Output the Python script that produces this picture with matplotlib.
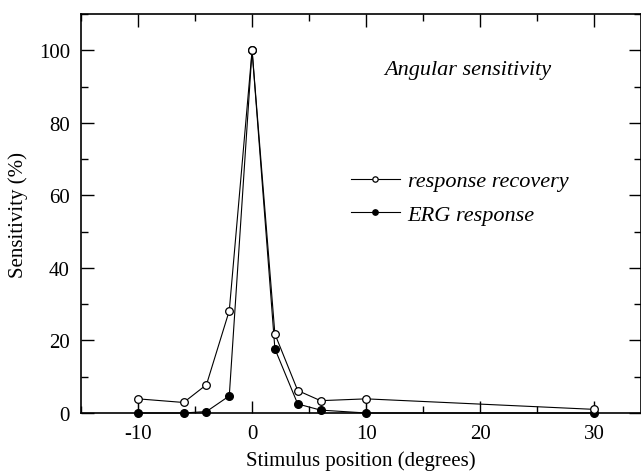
import matplotlib
matplotlib.use('Agg')
import matplotlib.pyplot as plt
from matplotlib.ticker import MultipleLocator, FixedLocator

plt.rcParams['font.family'] = 'Liberation Serif'
plt.rcParams['axes.unicode_minus'] = False

# stimulus positions (degrees)
positions = [-10, -6, -4, -2, 0, 2, 4, 6, 10, 30]
recovery = [3.9, 2.9, 7.8, 28.2, 100, 21.8, 6.2, 3.4, 3.9, 1.0]
erg = [0, 0, 0.4, 4.7, 100, 17.7, 2.5, 0.8, 0, 0]
# downward error bars on the recovery curve
recovery_err_low = [3.9, 0, 0, 0, 0, 0, 0, 0, 3.9, 1.0]
recovery_err_high = [0, 0, 0, 0, 0, 0, 0, 0, 0, 0]

fig = plt.figure(figsize=(6.41, 4.77), dpi=100)
ax = fig.add_axes([81/641, 63/477, 560/641, 399/477])

ax.errorbar(positions, recovery, yerr=[recovery_err_low, recovery_err_high],
            fmt='none', ecolor='black', elinewidth=0.8, capsize=0)
ax.plot(positions, recovery, '-o', color='black', lw=0.8, ms=5.5,
        mfc='white', mec='black', mew=0.9, clip_on=False, zorder=4,
        label='response recovery')
ax.plot(positions, erg, '-o', color='black', lw=0.8, ms=5.5,
        mfc='black', mec='black', clip_on=False, zorder=3,
        label='ERG response')

ax.set_xlim(-15, 34.1)
ax.set_ylim(0, 110)

ax.xaxis.set_major_locator(FixedLocator([-10, 0, 10, 20, 30]))
ax.xaxis.set_minor_locator(MultipleLocator(5))
ax.yaxis.set_major_locator(MultipleLocator(20))
ax.yaxis.set_minor_locator(MultipleLocator(10))
ax.set_yticks([0, 20, 40, 60, 80, 100])

ax.tick_params(which='both', direction='in', top=True, right=True,
               labelsize=15, width=1.0)
ax.tick_params(which='major', length=9, pad=8)
ax.tick_params(which='minor', length=5)

for s in ax.spines.values():
    s.set_linewidth(1.2)

ax.set_xlabel('Stimulus position (degrees)', fontsize=15, labelpad=5)
ax.set_ylabel('Sensitivity (%)', fontsize=15, labelpad=8)

ax.text(0.691, 0.862, 'Angular sensitivity', transform=ax.transAxes,
        fontsize=16, style='italic', ha='center', va='center')

leg = ax.legend(loc='upper left', bbox_to_anchor=(0.482, 0.607), frameon=False,
                prop={'family': 'Liberation Serif', 'style': 'italic', 'size': 16},
                handlelength=2.2, handletextpad=0.35, labelspacing=0.6,
                borderpad=0, borderaxespad=0, markerscale=0.7)

fig.savefig('out.png', dpi=100)
